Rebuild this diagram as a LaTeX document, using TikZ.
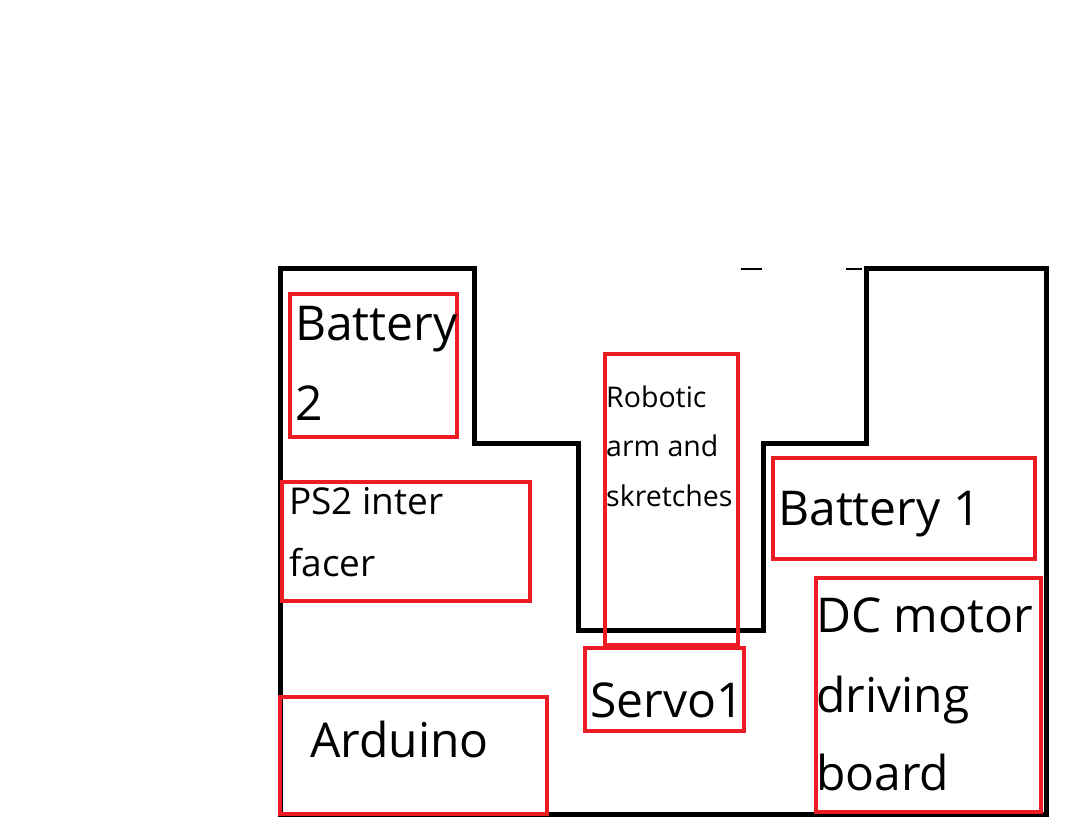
\documentclass[tikz,border=0pt]{standalone}
\usepackage{fontspec}
\setmainfont{Open Sans}
\definecolor{paintred}{RGB}{237,28,36}
\tikzset{
  redbox/.style={draw=paintred, line width=4.5pt, inner sep=0pt, rectangle},
  outline/.style={draw=black, line width=5pt, line join=miter},
  bigtxt/.style={anchor=base west, inner sep=0pt, font=\fontsize{48}{58}\selectfont},
  midtxt/.style={anchor=base west, inner sep=0pt, font=\fontsize{37}{45}\selectfont},
  smalltxt/.style={anchor=base west, inner sep=0pt, font=\fontsize{28.5}{34}\selectfont},
}
\begin{document}
\begin{tikzpicture}[x=1pt,y=-1pt]
\useasboundingbox (0,0) rectangle (1079,840);
% outline of the chassis
\draw[outline] (280,268) -- (474,268) -- (474,443) -- (578,443) -- (578,630) -- (763,630) -- (763,443) -- (866,443) -- (866,268) -- (1046,268) -- (1046,814) -- (280,814) -- cycle;
% small stray marks at the top
\draw[black, line width=1.5pt] (741,269) -- (762,269);
\draw[black, line width=1.5pt] (846,269) -- (862,269);
% red boxes
\node[redbox, minimum width=167pt, minimum height=143pt] (b2box) at (373.5,365.5) {};
\node[redbox, minimum width=248pt, minimum height=119pt] (ps2box) at (406,541.5) {};
\node[redbox, minimum width=267pt, minimum height=117pt] (ardbox) at (413.5,755.5) {};
\node[redbox, minimum width=133pt, minimum height=291pt] (armbox) at (671.5,499.5) {};
\node[redbox, minimum width=159pt, minimum height=83pt] (servobox) at (664.5,689.5) {};
\node[redbox, minimum width=262pt, minimum height=101pt] (b1box) at (904,508.5) {};
\node[redbox, minimum width=225pt, minimum height=234pt] (dcbox) at (928.5,695) {};
% texts
\node[bigtxt] (b2a) at (295,340) {Battery};
\node[bigtxt] (b2b) at (295,420) {2};
\node[midtxt] (ps2a) at (289,514) {PS2 inter};
\node[midtxt] (ps2b) at (289,576) {facer};
\node[bigtxt] (ard) at (310,757) {Arduino};
\node[smalltxt] (arma) at (606,407) {Robotic};
\node[smalltxt] (armb) at (606,456) {arm and};
\node[smalltxt] (armc) at (606,506) {skretches};
\node[bigtxt] (servo) at (590,717) {Servo1};
\node[bigtxt] (b1) at (778,525) {Battery 1};
\node[bigtxt] (dca) at (816,632) {DC motor};
\node[bigtxt] (dcb) at (816,712) {driving};
\node[bigtxt] (dcc) at (816,790) {board};
\end{tikzpicture}
\end{document}
